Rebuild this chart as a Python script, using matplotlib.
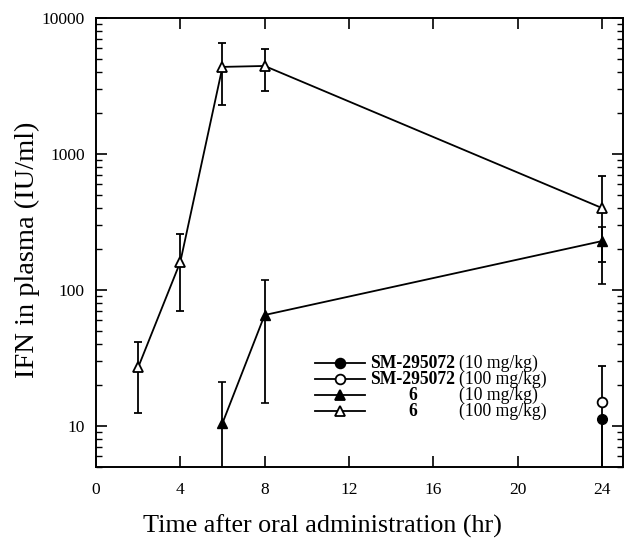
import matplotlib
matplotlib.use("Agg")
import matplotlib.pyplot as plt
from matplotlib.lines import Line2D
import numpy as np

plt.rcParams['font.family'] = ['Liberation Serif', 'DejaVu Serif']

# ---- data ----
t6 = [2, 4, 6, 8, 24]
y6_100 = [27, 161, 4370, 4440, 401]
lo6_100 = [12.5, 70, 2290, 2900, 161]
hi6_100 = [41.5, 258, 6550, 5920, 689]

t6_10 = [6, 8, 24]
y6_10 = [10.5, 65.5, 229]
lo6_10 = [1.0, 14.8, 111]
hi6_10 = [21, 119, 290]

tsm = [24]
ysm_10 = [11.2]
losm_10 = [1.0]
hism_10 = [11.2]
ysm_100 = [15]
losm_100 = [1.0]
hism_100 = [27.6]

xticks = [0, 4, 8, 12, 16, 20, 24]
yticks = [10, 100, 1000, 10000]

fig = plt.figure(figsize=(6.26, 5.41), dpi=100)
ax = fig.add_axes([96/626, 1-467/541, (623-96)/626, (467-18)/541])

def errs(y, lo, hi):
    y = np.array(y, float)
    return [y - np.array(lo, float), np.array(hi, float) - y]

ekw = dict(color='black', ecolor='black', elinewidth=1.3, capsize=3, capthick=1.2, lw=1.3, clip_on=True)

ax.errorbar(t6, y6_100, yerr=errs(y6_100, lo6_100, hi6_100), marker='^', ms=7,
            mfc='white', mec='black', mew=1.3, zorder=3, **ekw)
ax.errorbar(t6_10, y6_10, yerr=errs(y6_10, lo6_10, hi6_10), marker='^', ms=7,
            mfc='black', mec='black', zorder=3, **ekw)
ax.errorbar(tsm, ysm_100, yerr=errs(ysm_100, losm_100, hism_100), marker='o', ms=7,
            mfc='white', mec='black', mew=1.3, zorder=4, **ekw)
ax.errorbar(tsm, ysm_10, yerr=errs(ysm_10, losm_10, hism_10), marker='o', ms=7,
            mfc='black', mec='black', zorder=4, **ekw)

ax.set_yscale('log')
ax.set_xlim(0, 25)
ax.set_ylim(5, 10000)
ax.set_xticks(xticks)
ax.set_xticklabels([str(v) for v in xticks])
ax.set_yticks(yticks)
ax.set_yticklabels([str(v) for v in yticks])
ax.xaxis.set_minor_locator(matplotlib.ticker.NullLocator())
ax.yaxis.set_minor_locator(matplotlib.ticker.LogLocator(base=10, subs=np.arange(2, 10)))
ax.yaxis.set_minor_formatter(matplotlib.ticker.NullFormatter())
ax.tick_params(which='major', direction='in', length=8, width=1.2, top=True, right=True,
               labelsize=12.5)
ax.tick_params(which='minor', direction='in', length=4.5, width=1.0, top=True, right=True)
ax.tick_params(axis='x', pad=11)
ax.tick_params(axis='y', pad=8)
for s in ax.spines.values():
    s.set_linewidth(1.4)

ax.set_xlabel('Time after oral administration (hr)', fontsize=18.8, labelpad=12)
ax.xaxis.label.set_x(0.43)
ax.set_ylabel('IFN in plasma (IU/ml)', fontsize=20.5, labelpad=1)
ax.yaxis.label.set_y(0.483)

# ---- legend (manual) ----
rows = [('SM-295072', '(10 mg/kg)', 'o', 'black'),
        ('SM-295072', '(100 mg/kg)', 'o', 'white'),
        ('6', '(10 mg/kg)', '^', 'black'),
        ('6', '(100 mg/kg)', '^', 'white')]
def fx(px):
    return (px - 96) / (623 - 96)
def fy(py):
    return (467 - py) / (467 - 18)
row_y = [363, 379, 395, 411]
for (name, dose, m, fc), py in zip(rows, row_y):
    ax.add_line(Line2D([fx(315), fx(365)], [fy(py), fy(py)], transform=ax.transAxes,
                       color='black', lw=1.3, marker=None))
    ax.add_line(Line2D([fx(340)], [fy(py)], transform=ax.transAxes, color='black',
                       marker=m, ms=7 if m == 'o' else 6.5, mfc=fc, mec='black', mew=1.3))
    ax.text(fx(413), fy(py), name, transform=ax.transAxes, ha='center', va='center',
            fontsize=12.7, fontweight='bold')
    ax.text(fx(459), fy(py), dose, transform=ax.transAxes, ha='left', va='center',
            fontsize=12.7)

fig.savefig('out.png', dpi=100)
